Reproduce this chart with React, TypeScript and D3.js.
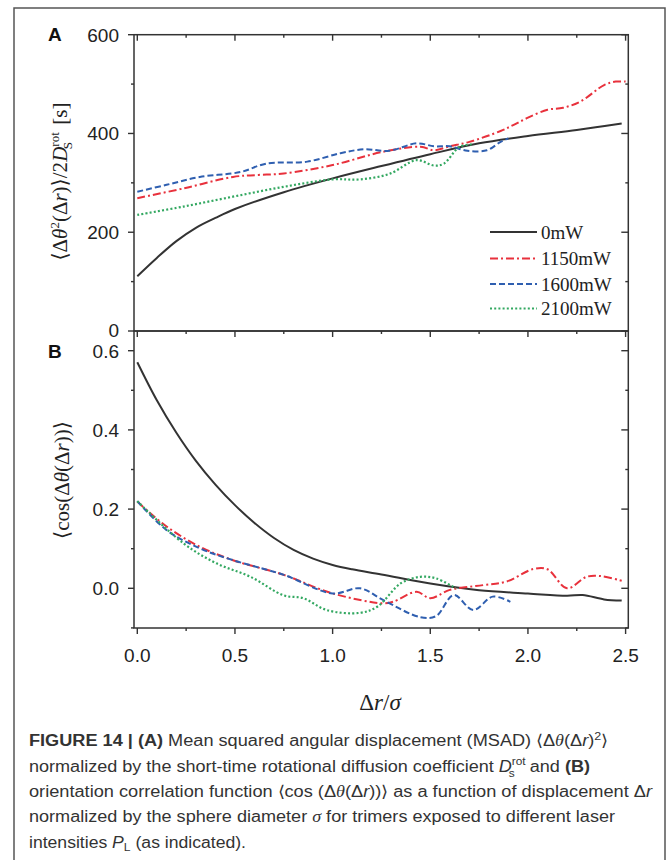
import React from "react";
import * as d3 from "d3";

// ---------- data ----------
const seriesNames = ["0mW", "1150mW", "1600mW", "2100mW"];
const seriesColors = ["#333333", "#e8313c", "#2f5fb0", "#33a861"];
const seriesDash = ["", "8,3,2,3", "6,3", "2,2.2"];

// Panel A: MSAD
const a0x = [0, 0.1, 0.2, 0.3, 0.4, 0.5, 0.75, 1.0, 1.25, 1.5, 1.75, 2.0, 2.25, 2.48];
const a0y = [111, 148, 182, 209, 229, 247, 281, 309, 334, 358, 380, 395, 407, 420];
const a1x = [0, 0.24, 0.49, 0.62, 0.75, 1.0, 1.26, 1.45, 1.52, 1.6, 1.7, 1.86, 1.93, 2.0, 2.1, 2.18, 2.27, 2.39, 2.45, 2.5];
const a1y = [269, 289, 312, 316, 319, 336, 363, 373, 366, 374, 383, 405, 418, 432, 448, 452, 465, 498, 505, 505];
const a2x = [0, 0.15, 0.32, 0.53, 0.66, 0.87, 1.04, 1.16, 1.29, 1.43, 1.52, 1.6, 1.69, 1.79, 1.86, 1.9];
const a2y = [282, 296, 312, 322, 339, 343, 360, 368, 365, 380, 374, 374, 365, 366, 383, 390];
const a3x = [0, 0.236, 0.49, 0.75, 1.0, 1.14, 1.29, 1.43, 1.52, 1.57, 1.65, 1.72];
const a3y = [235, 252, 272, 292, 307, 307, 318, 346, 335, 339, 373, 378];

// Panel B: orientation correlation
const b0x = [0, 0.1, 0.2, 0.3, 0.4, 0.5, 0.6, 0.7, 0.8, 0.9, 1.0, 1.1, 1.25, 1.5, 1.75, 2.0, 2.2, 2.28, 2.39, 2.48];
const b0y = [0.571, 0.475, 0.393, 0.322, 0.262, 0.21, 0.165, 0.127, 0.097, 0.075, 0.059, 0.048, 0.035, 0.012, -0.005, -0.013, -0.019, -0.017, -0.028, -0.031];
const b1x = [0, 0.15, 0.32, 0.49, 0.75, 1.0, 1.26, 1.31, 1.43, 1.5, 1.6, 1.77, 1.89, 2.03, 2.1, 2.2, 2.3, 2.37, 2.48];
const b1y = [0.219, 0.156, 0.105, 0.071, 0.034, -0.013, -0.038, -0.034, -0.009, -0.025, -0.004, 0.008, 0.017, 0.049, 0.048, 0.0, 0.029, 0.031, 0.019];
const b2x = [0, 0.15, 0.32, 0.49, 0.75, 1.0, 1.14, 1.26, 1.45, 1.53, 1.62, 1.72, 1.82, 1.91];
const b2y = [0.22, 0.147, 0.101, 0.071, 0.034, -0.013, 0.0, -0.03, -0.073, -0.07, -0.017, -0.055, -0.021, -0.034];
const b3x = [0, 0.235, 0.405, 0.58, 0.75, 0.85, 0.97, 1.14, 1.23, 1.35, 1.45, 1.53, 1.63];
const b3y = [0.22, 0.114, 0.063, 0.029, -0.018, -0.025, -0.055, -0.062, -0.046, 0.013, 0.029, 0.025, 0.0];

const xMajor = [0, 0.5, 1.0, 1.5, 2.0, 2.5];
const xMinor = [0.25, 0.75, 1.25, 1.75, 2.25];
const aMajor = [0, 200, 400, 600];
const aMinor = [100, 300, 500];
const bMajor = [0.0, 0.2, 0.4, 0.6];
const bMinor = [-0.1, 0.1, 0.3, 0.5];

// ---------- layout ----------
const W = 669, H = 860;
const left = 134, right = 628.3;
const aTop = 34.7, mid = 331, bBottom = 628;

const x = d3.scaleLinear().domain([0, 2.5]).range([137.3, 625.6]);
const yA = d3.scaleLinear().domain([0, 600]).range([mid, aTop]);
const yB = d3.scaleLinear().domain([0, 0.6]).range([588.3, 350.7]);

const axisColor = "#333";
const serif = "'Liberation Serif', 'DejaVu Serif', serif";
const sans = "'Liberation Sans', Arial, sans-serif";

function zip(xs: number[], ys: number[]) {
  return xs.map((v, i) => [v, ys[i]] as [number, number]);
}

export default function App() {
  const lineA = d3.line<[number, number]>().x(d => x(d[0])).y(d => yA(d[1])).curve(d3.curveCatmullRom.alpha(0.5));
  const lineB = d3.line<[number, number]>().x(d => x(d[0])).y(d => yB(d[1])).curve(d3.curveCatmullRom.alpha(0.5));
  const aSeries = [zip(a0x, a0y), zip(a1x, a1y), zip(a2x, a2y), zip(a3x, a3y)];
  const bSeries = [zip(b0x, b0y), zip(b1x, b1y), zip(b2x, b2y), zip(b3x, b3y)];

  const tickLines: JSX.Element[] = [];
  let k = 0;
  const tl = (x1: number, y1: number, x2: number, y2: number) =>
    tickLines.push(<line key={k++} x1={x1} y1={y1} x2={x2} y2={y2} stroke={axisColor} strokeWidth={1.4} />);

  for (const v of xMajor) { tl(x(v), aTop, x(v), aTop + 6); tl(x(v), mid, x(v), mid + 6); tl(x(v), bBottom, x(v), bBottom + 6); }
  for (const v of xMinor) { tl(x(v), aTop, x(v), aTop + 3); tl(x(v), mid, x(v), mid + 3); tl(x(v), bBottom, x(v), bBottom + 3); }
  for (const v of aMajor) { tl(left - 6, yA(v), left, yA(v)); tl(right - 7, yA(v), right, yA(v)); }
  for (const v of aMinor) { tl(left - 3, yA(v), left, yA(v)); tl(right - 3, yA(v), right, yA(v)); }
  for (const v of bMajor) { tl(left - 6, yB(v), left, yB(v)); tl(right - 7, yB(v), right, yB(v)); }
  for (const v of bMinor) { tl(left - 3, yB(v), left, yB(v)); tl(right - 3, yB(v), right, yB(v)); }

  const legendY = [232, 258.5, 284, 308.5];

  return (
    <svg width={W} height={H} style={{ position: "absolute", left: 0, top: 0, background: "#fff" }}>
      <rect x={14} y={8} width={651} height={870} fill="none" stroke="#555" strokeWidth={1.5} />

      <rect x={left} y={aTop} width={right - left} height={mid - aTop} fill="none" stroke={axisColor} strokeWidth={1.5} />
      <rect x={left} y={mid} width={right - left} height={bBottom - mid} fill="none" stroke={axisColor} strokeWidth={1.5} />
      {tickLines}

      <g fill="none">
        {aSeries.map((s, i) => (
          <path key={"a" + i} d={lineA(s) || ""} stroke={seriesColors[i]} strokeDasharray={seriesDash[i]} strokeWidth={i === 3 ? 2.2 : 2} />
        ))}
        {bSeries.map((s, i) => (
          <path key={"b" + i} d={lineB(s) || ""} stroke={seriesColors[i]} strokeDasharray={seriesDash[i]} strokeWidth={i === 3 ? 2.2 : 2} />
        ))}
      </g>

      {seriesNames.map((n, i) => (
        <g key={n}>
          <line x1={490} x2={537} y1={legendY[i]} y2={legendY[i]} stroke={seriesColors[i]} strokeWidth={2} strokeDasharray={seriesDash[i]} />
          <text x={541} y={legendY[i] + 6.5} fontFamily={serif} fontSize={19} fill="#222">{n}</text>
        </g>
      ))}

      <g fontFamily={sans} fontSize={19} fill="#222">
        {aMajor.map(v => (
          <text key={"ya" + v} x={119} y={yA(v) + (v === 0 ? 5.5 : 7)} textAnchor="end">{d3.format("d")(v)}</text>
        ))}
        {bMajor.map(v => (
          <text key={"yb" + v} x={119} y={yB(v) + (v === 0.6 ? 7.5 : 7)} textAnchor="end">{d3.format(".1f")(v)}</text>
        ))}
        {xMajor.map(v => (
          <text key={"x" + v} x={x(v)} y={662} textAnchor="middle">{d3.format(".1f")(v)}</text>
        ))}
      </g>

      <text x={48} y={41} fontFamily={sans} fontWeight="bold" fontSize={19} fill="#111">A</text>
      <text x={48} y={358} fontFamily={sans} fontWeight="bold" fontSize={19} fill="#111">B</text>

      <text transform="translate(67,181.6) rotate(-90)" textAnchor="middle" fontFamily={serif} fontSize={21} fill="#222">
        ⟨Δ<tspan fontStyle="italic">θ</tspan><tspan fontSize={13} dy={-8}>2</tspan><tspan dy={8}>(Δ</tspan><tspan fontStyle="italic">r</tspan>)⟩/2<tspan fontStyle="italic">D</tspan>
        <tspan fontSize={13} dy={-8}>rot</tspan><tspan fontSize={13} dx={-17} dy={13}>S</tspan><tspan dx={12} dy={-5}> [s]</tspan>
      </text>

      <text transform="translate(69,480) rotate(-90)" textAnchor="middle" fontFamily={serif} fontSize={21} fill="#222">
        ⟨cos(Δ<tspan fontStyle="italic">θ</tspan>(Δ<tspan fontStyle="italic">r</tspan>))⟩
      </text>

      <text x={380} y={710} textAnchor="middle" fontFamily={serif} fontSize={23} fill="#222">
        Δ<tspan fontStyle="italic">r</tspan>/<tspan fontStyle="italic">σ</tspan>
      </text>

      <g fontFamily={sans} fontSize={16} fill="#333">
        <text x={29} y={746} textLength={579} lengthAdjust="spacingAndGlyphs">
          <tspan fontWeight="bold">FIGURE 14 | (A)</tspan> Mean squared angular displacement (MSAD) ⟨Δ<tspan fontFamily={serif} fontStyle="italic">θ</tspan>(Δ<tspan fontStyle="italic">r</tspan>)<tspan fontSize={11} dy={-6}>2</tspan><tspan dy={6}>⟩</tspan>
        </text>
        <text x={29} y={772} textLength={561} lengthAdjust="spacingAndGlyphs">
          normalized by the short-time rotational diffusion coefficient <tspan fontStyle="italic">D</tspan><tspan fontSize={10.5} dy={-7.5}>rot</tspan><tspan fontSize={10.5} dx={-15} dy={12}>s</tspan><tspan dx={9} dy={-4.5}> and </tspan><tspan fontWeight="bold">(B)</tspan>
        </text>
        <text x={29} y={797} textLength={623} lengthAdjust="spacingAndGlyphs">
          orientation correlation function ⟨cos (Δ<tspan fontFamily={serif} fontStyle="italic">θ</tspan>(Δ<tspan fontStyle="italic">r</tspan>))⟩ as a function of displacement Δ<tspan fontStyle="italic">r</tspan>
        </text>
        <text x={29} y={822} textLength={586} lengthAdjust="spacingAndGlyphs">
          normalized by the sphere diameter <tspan fontFamily={serif} fontStyle="italic">σ</tspan> for trimers exposed to different laser
        </text>
        <text x={29} y={848} textLength={217} lengthAdjust="spacingAndGlyphs">
          intensities <tspan fontStyle="italic">P</tspan><tspan fontSize={11} dy={3}>L</tspan><tspan dy={-3}> (as indicated).</tspan>
        </text>
      </g>
    </svg>
  );
}
